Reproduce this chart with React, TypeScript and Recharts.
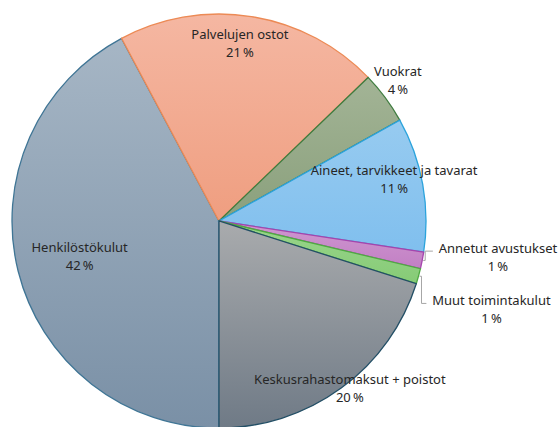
import { PieChart, Pie, Cell } from "recharts"

// Expense categories, clockwise starting from 6 o'clock
const categories = [
  "Henkilöstökulut",
  "Palvelujen ostot",
  "Vuokrat",
  "Aineet, tarvikkeet ja tavarat",
  "Annetut avustukset",
  "Muut toimintakulut",
  "Keskusrahastomaksut + poistot",
]
// share of total, percent
const shares = [42.2, 20.6, 4.1, 10.5, 1.3, 1.2, 20.1]

const data = categories.map((name, i) => ({ name, value: shares[i] }))

// fill gradient (top, bottom) and outline per slice
const fills = [
  ["#a6b6c5", "#7a90a6"],
  ["#f5b7a2", "#ef9e80"],
  ["#a3b496", "#8aa07c"],
  ["#97cbf0", "#80bfee"],
  ["#cf98d0", "#c27fc4"],
  ["#9ad58c", "#86cb76"],
  ["#a9abad", "#6f7a86"],
]
const strokes = ["#3f7595", "#ec8a55", "#3f7c3f", "#2ba3dc", "#a545ad", "#4faa42", "#234f66"]

// label placement: radius factor and angle shift (compass degrees)
const labelRadius = [0.694, 0.866, 1.1, 0.87, 1.359, 1.384, 1.025]
const labelShift = [0, -2.3, -1.7, -3.2, -3.6, 2.5, -1.9]

const RAD = Math.PI / 180
const FONT = "'Noto Sans', sans-serif"
const FS = 13

const renderLabel = (props: any) => {
  const { cx, cy, midAngle, outerRadius, index, value, name } = props
  const a = midAngle - labelShift[index]
  const r = outerRadius * labelRadius[index]
  const x = cx + r * Math.cos(-a * RAD)
  const y = cy + r * Math.sin(-a * RAD)
  const pct = `${Math.round(value)}\u2009%`

  let leader = null
  if (index === 4 || index === 5) {
    // small elbow leader for the thin slices
    const ex = cx + outerRadius * Math.cos(-midAngle * RAD)
    const ey = cy + outerRadius * Math.sin(-midAngle * RAD)
    const left = x - (name.length * 6.9) / 2 - 3
    const yh = y - 9 + 3
    leader = (
      <polyline
        points={`${ex + 1},${ey} ${ex + 3},${ey} ${ex + 3},${yh} ${left},${yh}`}
        fill="none"
        stroke="#a6a6a6"
        strokeWidth={1}
      />
    )
  }

  return (
    <g key={`lbl-${index}`}>
      {leader}
      <text x={x} y={y - 9} textAnchor="middle" dominantBaseline="central" fill="#262626" fontSize={FS} fontFamily={FONT}>
        {name}
      </text>
      <text x={x} y={y + 9} textAnchor="middle" dominantBaseline="central" fill="#262626" fontSize={FS} fontFamily={FONT}>
        {pct}
      </text>
    </g>
  )
}

export default function App() {
  return (
    <div style={{ position: "absolute", left: 0, top: 0, width: 560, height: 427, background: "#fff" }}>
      <PieChart width={560} height={427} margin={{ top: 0, right: 0, bottom: 0, left: 0 }}>
        <defs>
          {fills.map((f, i) => (
            <linearGradient key={i} id={`g${i}`} x1="0" y1="0" x2="0" y2="1">
              <stop offset="0%" stopColor={f[0]} />
              <stop offset="100%" stopColor={f[1]} />
            </linearGradient>
          ))}
        </defs>
        <Pie
          data={data}
          dataKey="value"
          nameKey="name"
          cx={219}
          cy={221}
          outerRadius={207}
          startAngle={-90}
          endAngle={-450}
          label={renderLabel}
          labelLine={false}
          isAnimationActive={false}
        >
          {data.map((entry, i) => (
            <Cell key={`cell-${i}`} fill={`url(#g${i})`} stroke={strokes[i]} strokeWidth={1.3} />
          ))}
        </Pie>
      </PieChart>
    </div>
  )
}
